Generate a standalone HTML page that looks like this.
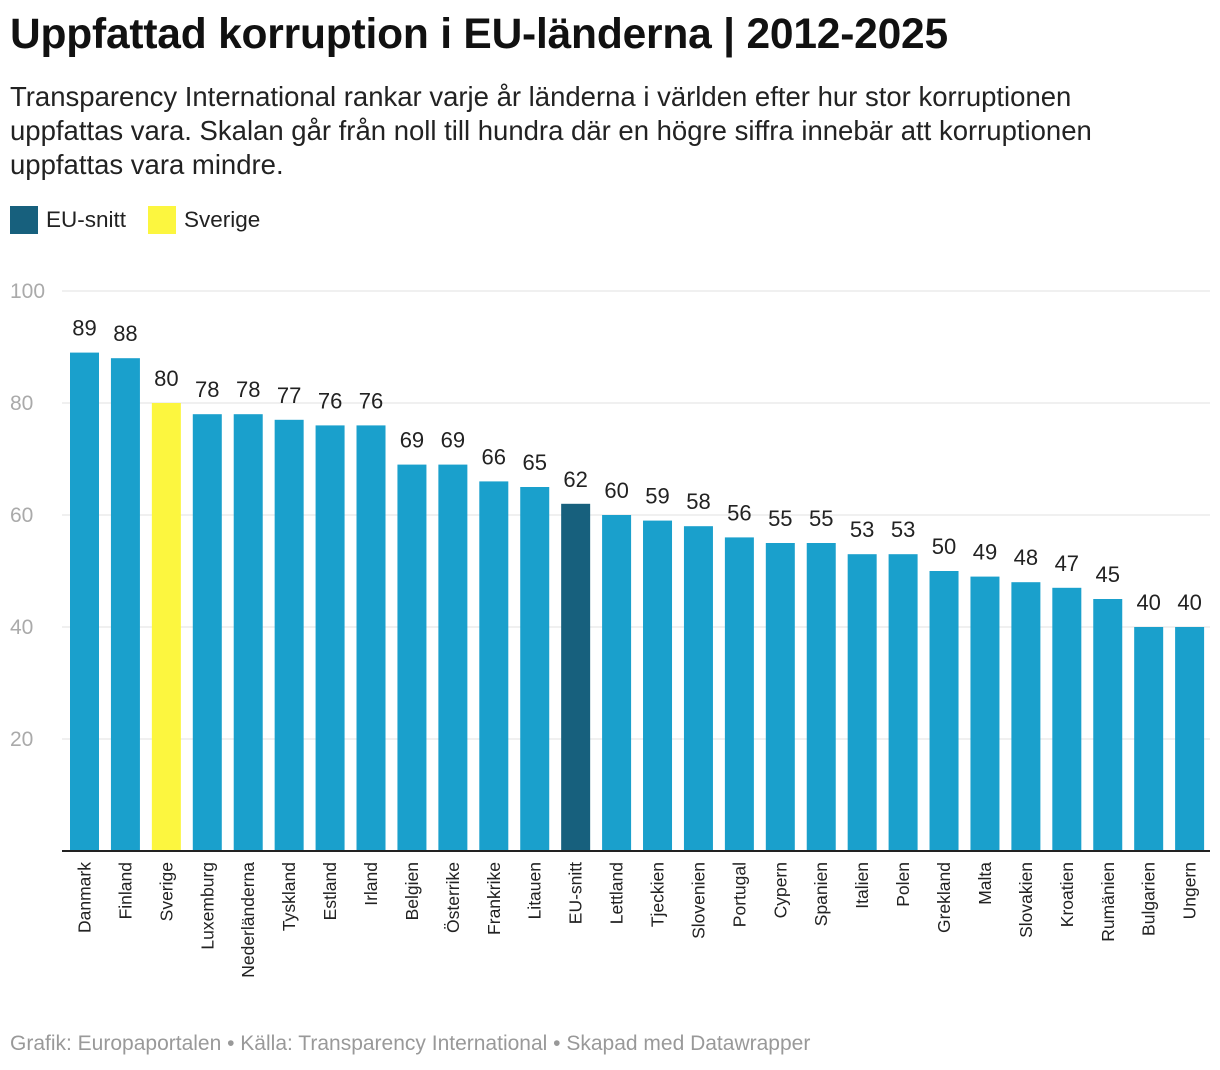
<!DOCTYPE html>
<html><head><meta charset="utf-8">
<style>
body{margin:0;background:#fff;font-family:"Liberation Sans",sans-serif;}
#wrap{position:relative;width:1220px;height:1070px;overflow:hidden;}
h1{position:absolute;left:10px;top:11px;margin:0;font-size:42.5px;font-weight:bold;color:#111;letter-spacing:-0.2px;white-space:nowrap}
#sub{position:absolute;left:10px;top:80px;width:1125px;font-size:27.5px;line-height:34px;color:#222}
.leg{position:absolute;top:206px;font-size:22.5px;color:#222;display:flex;align-items:center}
.sw{width:28px;height:28px;margin-right:8px;display:inline-block}
#foot{position:absolute;left:10px;top:1032px;font-size:21px;color:#999;white-space:nowrap}
</style></head><body>
<div id="wrap">
<h1>Uppfattad korruption i EU-länderna | 2012-2025</h1>
<div id="sub">Transparency International rankar varje år länderna i världen efter hur stor korruptionen uppfattas vara. Skalan går från noll till hundra där en högre siffra innebär att korruptionen uppfattas vara mindre.</div>
<div class="leg" style="left:10px"><span class="sw" style="background:#17607d"></span>EU-snitt</div>
<div class="leg" style="left:148px"><span class="sw" style="background:#fcf63f"></span>Sverige</div>
<svg id="chart" width="1220" height="1070" style="position:absolute;left:0;top:0"></svg>
<div id="foot">Grafik: Europaportalen • Källa: Transparency International • Skapad med Datawrapper</div>
</div>
<script>
const categories=["Danmark","Finland","Sverige","Luxemburg","Nederländerna","Tyskland","Estland","Irland","Belgien","Österrike","Frankrike","Litauen","EU-snitt","Lettland","Tjeckien","Slovenien","Portugal","Cypern","Spanien","Italien","Polen","Grekland","Malta","Slovakien","Kroatien","Rumänien","Bulgarien","Ungern"];
const values=[89,88,80,78,78,77,76,76,69,69,66,65,62,60,59,58,56,55,55,53,53,50,49,48,47,45,40,40];
const ticks=[20,40,60,80,100];
const NS="http://www.w3.org/2000/svg";
const svg=document.getElementById('chart');
const y0=851,pxPer=5.6,x0=70,pitch=40.93,bw=29;
const y=v=>y0-v*pxPer;
const x=i=>x0+i*pitch;
function el(t,a){const e=document.createElementNS(NS,t);for(const k in a)e.setAttribute(k,a[k]);svg.appendChild(e);return e;}
ticks.forEach(t=>{
 const l=el('line',{x1:62,x2:1210,y1:y(t),y2:y(t),stroke:'#e2e2e2','stroke-width':1});
 
 
 const tx=el('text',{x:10,y:y(t)+7,'font-size':21,fill:'#aaa'});
 tx.textContent=t;
 
 
});
categories.forEach((c,i)=>{
 const v=values[i];
 const col=c==="Sverige"?'#fcf63f':(c==="EU-snitt"?'#17607d':'#1aa0cc');
 const r=el('rect',{x:x(i),y:y(v),width:bw,height:v*pxPer,fill:col});
 
 
 const t=el('text',{x:x(i)+bw/2,y:y(v)-17,'font-size':22,fill:'#222','text-anchor':'middle'});
 t.textContent=v;
 
 
 const cx=x(i)+bw/2+6;
 const lb=el('text',{x:0,y:0,'font-size':17.5,fill:'#222','text-anchor':'end',transform:`translate(${cx},862) rotate(-90)`});
 lb.textContent=c;
 
 
});
const ax=el('line',{x1:62,x2:1210,y1:y0,y2:y0,stroke:'#222','stroke-width':2});


</script>
</body></html>
